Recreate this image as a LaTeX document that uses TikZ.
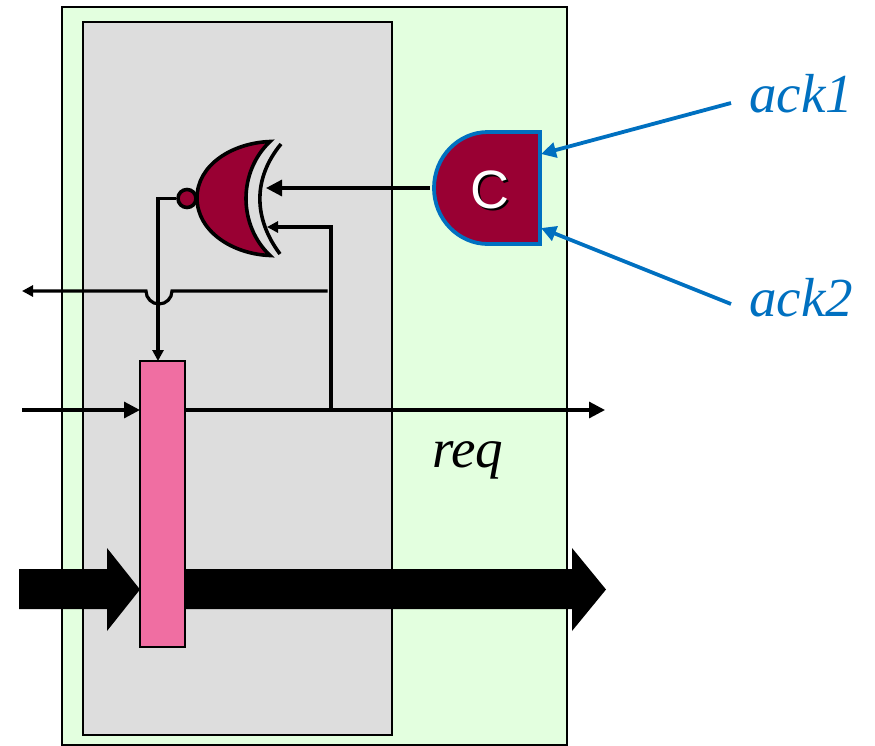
\documentclass[tikz,border=0pt]{standalone}
\usepackage{fontspec}
\setmainfont{Liberation Serif}
\setsansfont{Liberation Sans}
\usetikzlibrary{arrows.meta,calc}
\definecolor{panelgreen}{HTML}{E3FFDF}
\definecolor{panelgray}{HTML}{DDDDDD}
\definecolor{gatered}{HTML}{990033}
\definecolor{latchpink}{HTML}{F06EA2}
\definecolor{ackblue}{HTML}{0070C0}
\tikzset{
  panel/.style={draw=black,line width=1.6pt,anchor=north west,inner sep=0pt,outer sep=0pt},
  wire/.style={draw=black,line width=3.2pt,line join=miter},
  wirearrow/.style={wire,-{Triangle[length=16pt,width=16pt]}},
  smallarrow/.style={wire,-{Triangle[length=11pt,width=11pt]}},
  ackarrow/.style={draw=ackblue,line width=3.8pt,-{Triangle[length=15pt,width=15pt]}},
  acklabel/.style={font=\itshape\fontsize{55}{58}\selectfont,text=ackblue,anchor=base west,inner sep=0pt},
  gatebody/.style={draw=black,line width=3.6pt,fill=gatered,line join=miter},
  bigarrow/.style={fill=black,draw=none},
}
\begin{document}
\begin{tikzpicture}[x=1pt,y=-1pt]
\useasboundingbox (0,0) rectangle (875,745);
% panels
\node[panel,fill=panelgreen,minimum width=505pt,minimum height=738pt] (outer) at (62,7) {};
\node[panel,fill=panelgray,minimum width=309pt,minimum height=713pt] (inner) at (83,22) {};
% bus arrows
\path[bigarrow] (19,569) -- (107,569) -- (107,548) -- (140,589.5) -- (107,631) -- (107,609) -- (19,609) -- cycle;
\path[bigarrow] (185,569) -- (572,569) -- (572,548) -- (606,589.5) -- (572,631) -- (572,609) -- (185,609) -- cycle;
% latch
\node[panel,fill=latchpink,minimum width=45pt,minimum height=286pt] (latch) at (140,361) {};
% XNOR gate
\draw[gatebody] (270,141.5) .. controls (232,143) and (197,165) .. (197,198)
  .. controls (197,231) and (232,254) .. (270,255.5)
  .. controls (238,225) and (238,172) .. (270,141.5) -- cycle;
\draw[draw=black,line width=3.6pt] (281,144) .. controls (253,178) and (253,218) .. (280,254);
\node[draw=black,line width=3.6pt,fill=gatered,circle,minimum size=18pt,inner sep=0pt] (bubble) at (187,198.5) {};
\coordinate (xin1) at (266,188);
\coordinate (xin2) at (267,227);
% C element
\draw[draw=ackblue,line width=3.8pt,fill=gatered,line join=miter]
  (540,132) -- (488,132) arc[start angle=270,end angle=90,x radius=54,y radius=56] -- (540,244) -- cycle;
\coordinate (cout) at (430,188);
\coordinate (cin1) at (541,154);
\coordinate (cin2) at (541,228);
\node[font=\sffamily\fontsize{54}{58}\selectfont,text=black,inner sep=0pt] at (491.5,191.5) {C};
\node[font=\sffamily\fontsize{54}{58}\selectfont,text=white,inner sep=0pt] (clabel) at (490,190) {C};
% wires
\coordinate (tap) at (331,410);
\coordinate (turn) at (331,227);
\coordinate (corner) at (158,198.5);
\coordinate (jumpend) at (327.5,291);
\coordinate (jumpr) at (172,291);
\coordinate (jumpl) at (146,291);
\coordinate (ackout) at (22,291);
\coordinate (reqin) at (22,410);
\coordinate (reqout) at (605,410);
\draw[wirearrow] (cout) -- (xin1);
\draw[smallarrow] (tap) -- (turn) -- (xin2);
\draw[smallarrow] (bubble.west) -- (corner) -- (corner |- latch.north);
\draw[smallarrow] (jumpend) -- (jumpr) arc[start angle=0,end angle=180,radius=13] -- (ackout);
\draw[wirearrow] (reqin) -- (reqin -| latch.west);
\draw[wirearrow] (reqin -| latch.east) -- (reqout);
% ack
\coordinate (ack1start) at (731,103);
\coordinate (ack2start) at (731,304);
\draw[ackarrow] (ack1start) -- (cin1);
\draw[ackarrow] (ack2start) -- (cin2);
\node[acklabel] (ack1) at (749,112) {ack1};
\node[acklabel] (ack2) at (749,316) {ack2};
\node[font=\itshape\fontsize{55}{58}\selectfont,anchor=base west,inner sep=0pt] (req) at (432,467) {req};
\end{tikzpicture}
\end{document}
